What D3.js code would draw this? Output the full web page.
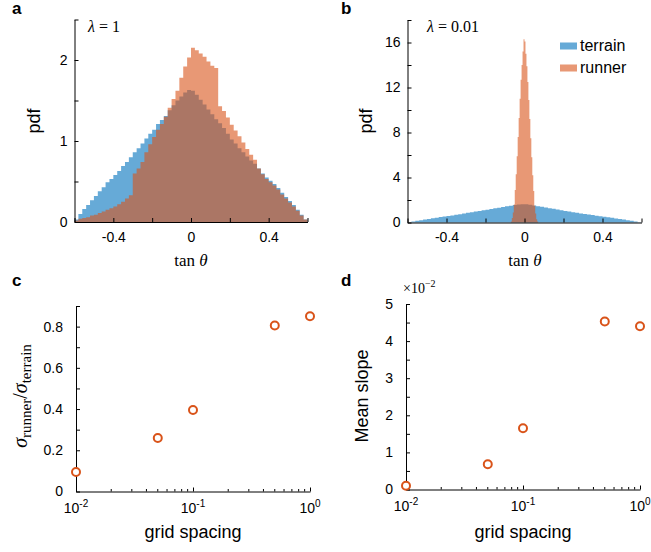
<!DOCTYPE html>
<html lang="en">
<head>
<meta charset="UTF-8" />
<title>Terrain vs runner slopes</title>
<script src="https://d3js.org/d3.v7.min.js"></script>
<style>
    body { margin: 0; background: #fff; }
    svg { font-family: "Liberation Sans", Arial, sans-serif; }
    .tick text, .lbl { font-family: "Liberation Sans", Arial, sans-serif; font-size: 14px; fill: #000; }
    .tick line, .domain { stroke: #000; stroke-width: 1; }
    .axlabel { font-size: 18px; }
    .math { font-family: "Liberation Serif", "Times New Roman", serif; }
    .panel { font-size: 17px; font-weight: bold; }
</style>
</head>
<body>
<div id="chart"></div>
<script>
// histogram bins, panel a and terrain in b (width 0.02 from -0.6)
var binStart = -0.6, binWidth = 0.02;
var terrainPdf = [0.03, 0.10, 0.16, 0.21, 0.27, 0.32, 0.38, 0.43, 0.49, 0.53,
    0.58, 0.63, 0.69, 0.74, 0.80, 0.86, 0.91, 0.97, 1.03, 1.09,
    1.14, 1.21, 1.26, 1.31, 1.38, 1.44, 1.50, 1.55, 1.60, 1.63,
    1.62, 1.57, 1.51, 1.45, 1.39, 1.33, 1.27, 1.22, 1.16, 1.09,
    1.02, 0.97, 0.91, 0.86, 0.81, 0.76, 0.72, 0.66, 0.60, 0.55,
    0.51, 0.47, 0.42, 0.36, 0.31, 0.26, 0.21, 0.15, 0.09, 0.03];
var runnerPdfA = [0.02, 0.04, 0.05, 0.06, 0.08, 0.09, 0.11, 0.13, 0.15, 0.17,
    0.19, 0.22, 0.25, 0.29, 0.33, 0.60, 0.66, 0.74, 0.86, 0.96,
    1.05, 1.14, 1.21, 1.30, 1.41, 1.52, 1.62, 1.78, 1.92, 2.03,
    2.15, 2.12, 2.08, 2.04, 1.98, 1.93, 1.90, 1.43, 1.37, 1.29,
    1.20, 1.13, 1.06, 0.98, 0.90, 0.83, 0.77, 0.66, 0.59, 0.53,
    0.49, 0.45, 0.40, 0.34, 0.29, 0.24, 0.19, 0.14, 0.08, 0.03];
// runner in panel b (width 0.005 from -0.07)
var binStartB = -0.07, binWidthB = 0.005;
var runnerPdfB = [0.1, 0.4, 0.9, 1.6, 2.9, 4.3, 5.9, 7.6, 9.3, 11.0,
    12.7, 14.0, 15.2, 16.3, 16.1, 15.0, 13.9, 12.5, 10.9, 9.2,
    7.5, 5.8, 4.2, 2.8, 1.5, 0.8, 0.3, 0.1];

// panels c and d
var gridSpacing = [0.01, 0.05, 0.1, 0.5, 1];
var sigmaRatio = [0.095, 0.26, 0.395, 0.805, 0.85];
var meanSlope = [0.1, 0.68, 1.65, 4.53, 4.40];   // x 10^-2

// ticks
var xTicksHist = [-0.6, -0.4, -0.2, 0, 0.2, 0.4, 0.6];
var xLabelsHist = [-0.4, 0, 0.4];
var yTicksA = [0, 0.5, 1, 1.5, 2, 2.5];
var yLabelsA = [0, 1, 2];
var yTicksB = [0, 2, 4, 6, 8, 10, 12, 14, 16, 18];
var yLabelsB = [0, 4, 8, 12, 16];
var yTicksC = [0, 0.1, 0.2, 0.3, 0.4, 0.5, 0.6, 0.7, 0.8, 0.9];
var yLabelsC = [0, 0.2, 0.4, 0.6, 0.8];
var yTicksD = [0, 0.5, 1, 1.5, 2, 2.5, 3, 3.5, 4, 4.5, 5];
var yLabelsD = [0, 1, 2, 3, 4, 5];
var logMajor = [0.01, 0.1, 1];
var logMajorExp = ["-2", "-1", "0"];

var blue = "#0072BD", orange = "#D95319";

var svg = d3.select("#chart").append("svg")
    .attr("width", 651).attr("height", 552);

function fmt(list) {
    return function(v) {
        var hit = list.some(function(l) { return Math.abs(l - v) < 1e-9; });
        if (!hit) return "";
        return Math.abs(v) < 1e-9 ? "0" : String(+v.toFixed(2));
    };
}

function drawYAxis(y, x0, ticks, labels, pad) {
    svg.append("g")
        .attr("transform", "translate(" + x0 + ",0)")
        .call(d3.axisLeft(y).tickValues(ticks).tickFormat(fmt(labels))
            .tickSizeInner(-4).tickSizeOuter(0).tickPadding(pad));
}

function drawLinX(x, y0, ticks, labels) {
    svg.append("g")
        .attr("transform", "translate(0," + y0 + ")")
        .call(d3.axisBottom(x).tickValues(ticks).tickFormat(fmt(labels))
            .tickSizeInner(-4).tickSizeOuter(0).tickPadding(10));
}

function drawLogX(x, y0) {
    var minor = [];
    logMajor.forEach(function(m, i) {
        if (i < logMajor.length - 1)
            for (var k = 2; k <= 9; k++) minor.push(m * k);
    });
    var g = svg.append("g").attr("transform", "translate(0," + y0 + ")");
    g.call(d3.axisBottom(x).tickValues(logMajor).tickFormat("")
        .tickSizeInner(-4).tickSizeOuter(0));
    g.selectAll(".minor").data(minor).enter().append("line")
        .attr("x1", function(d) { return x(d); })
        .attr("x2", function(d) { return x(d); })
        .attr("y1", 0).attr("y2", -2.5)
        .attr("stroke", "#000");
    var t = g.selectAll(".lbl").data(logMajor).enter().append("text")
        .attr("class", "lbl")
        .attr("x", function(d) { return x(d); })
        .attr("y", 21)
        .attr("text-anchor", "middle");
    t.append("tspan").text("10");
    t.append("tspan").attr("font-size", 10).attr("dy", -6)
        .text(function(d, i) { return logMajorExp[i]; });
}

function histArea(x, y, start, width, vals, color) {
    var pts = vals.map(function(v, i) { return [start + i * width, v]; });
    pts.push([start + vals.length * width, vals[vals.length - 1]]);
    var area = d3.area()
        .curve(d3.curveStepAfter)
        .x(function(d) { return x(d[0]); })
        .y0(y(0))
        .y1(function(d) { return y(d[1]); });
    svg.append("path")
        .datum(pts)
        .attr("d", area)
        .attr("fill", color)
        .attr("fill-opacity", 0.6);
}

function yLabel(cx, cy, txt, cls) {
    svg.append("text")
        .attr("class", cls)
        .attr("transform", "translate(" + cx + "," + cy + ") rotate(-90)")
        .attr("text-anchor", "middle")
        .text(txt);
}

function tanLabel(cx) {
    var t = svg.append("text").attr("class", "math")
        .attr("x", cx).attr("y", 266)
        .attr("text-anchor", "middle").attr("font-size", 17);
    t.append("tspan").text("tan ");
    t.append("tspan").attr("font-style", "italic").text("\u03b8");
}

// ---- panel a ----
var xA = d3.scaleLinear().domain([-0.6, 0.6]).range([74.5, 307.5]);
var yA = d3.scaleLinear().domain([0, 2.5]).range([222, 19.5]);
histArea(xA, yA, binStart, binWidth, terrainPdf, blue);
histArea(xA, yA, binStart, binWidth, runnerPdfA, orange);
drawYAxis(yA, 74.5, yTicksA, yLabelsA, 7);
drawLinX(xA, 222, xTicksHist, xLabelsHist);
yLabel(40, 121, "pdf", "axlabel");
tanLabel(191);
svg.append("text").attr("class", "panel").attr("x", 12).attr("y", 14).text("a");
var la = svg.append("text").attr("class", "math").attr("x", 88).attr("y", 32).attr("font-size", 16);
la.append("tspan").attr("font-style", "italic").text("\u03bb");
la.append("tspan").text(" = 1");

// ---- panel b ----
var xB = d3.scaleLinear().domain([-0.6, 0.6]).range([407.5, 641.5]);
var yB = d3.scaleLinear().domain([0, 18]).range([222.5, 20]);
histArea(xB, yB, binStart, binWidth, terrainPdf, blue);
histArea(xB, yB, binStartB, binWidthB, runnerPdfB, orange);
drawYAxis(yB, 407.5, yTicksB, yLabelsB, 7);
drawLinX(xB, 222.5, xTicksHist, xLabelsHist);
yLabel(372, 121, "pdf", "axlabel");
tanLabel(525);
svg.append("text").attr("class", "panel").attr("x", 341).attr("y", 14).text("b");
var lb = svg.append("text").attr("class", "math").attr("x", 427).attr("y", 32).attr("font-size", 16);
lb.append("tspan").attr("font-style", "italic").text("\u03bb");
lb.append("tspan").text(" = 0.01");

// legend
var legend = [["terrain", blue], ["runner", orange]];
legend.forEach(function(d, i) {
    svg.append("rect")
        .attr("x", 560).attr("y", 42.5 + i * 22)
        .attr("width", 17).attr("height", 7)
        .attr("fill", d[1]).attr("fill-opacity", 0.6);
    svg.append("text")
        .attr("x", 580).attr("y", 51 + i * 22)
        .attr("font-size", 16)
        .text(d[0]);
});

// ---- panel c ----
var xC = d3.scaleLog().domain([0.01, 1]).range([76, 310]);
var yC = d3.scaleLinear().domain([0, 0.9]).range([491.5, 306]);
drawYAxis(yC, 76, yTicksC, yLabelsC, 13);
drawLogX(xC, 491.5);
svg.selectAll(".ptc").data(gridSpacing).enter().append("circle")
    .attr("cx", function(d) { return xC(d); })
    .attr("cy", function(d, i) { return yC(sigmaRatio[i]); })
    .attr("r", 4)
    .attr("fill", "#fff").attr("stroke", orange).attr("stroke-width", 2);
svg.append("text").attr("class", "axlabel").attr("x", 193).attr("y", 538)
    .attr("text-anchor", "middle").text("grid spacing");
svg.append("text").attr("class", "panel").attr("x", 12).attr("y", 286).text("c");
var sl = svg.append("text").attr("class", "math")
    .attr("transform", "translate(27,396) rotate(-90)")
    .attr("text-anchor", "middle").attr("font-size", 20);
sl.append("tspan").attr("font-style", "italic").text("\u03c3");
sl.append("tspan").attr("font-size", 15).attr("dy", 4).text("runner");
sl.append("tspan").attr("dy", -4).text("/");
sl.append("tspan").attr("font-style", "italic").text("\u03c3");
sl.append("tspan").attr("font-size", 15).attr("dy", 4).text("terrain");

// ---- panel d ----
var xD = d3.scaleLog().domain([0.01, 1]).range([406, 640]);
var yD = d3.scaleLinear().domain([0, 5]).range([489.5, 304]);
drawYAxis(yD, 406, yTicksD, yLabelsD, 13);
drawLogX(xD, 489.5);
svg.selectAll(".ptd").data(gridSpacing).enter().append("circle")
    .attr("cx", function(d) { return xD(d); })
    .attr("cy", function(d, i) { return yD(meanSlope[i]); })
    .attr("r", 4)
    .attr("fill", "#fff").attr("stroke", orange).attr("stroke-width", 2);
svg.append("text").attr("class", "axlabel").attr("x", 523).attr("y", 538)
    .attr("text-anchor", "middle").text("grid spacing");
yLabel(368, 396, "Mean slope", "axlabel");
svg.append("text").attr("class", "panel").attr("x", 341).attr("y", 286).text("d");
var ex = svg.append("text").attr("class", "math").attr("x", 403).attr("y", 293).attr("font-size", 14);
ex.append("tspan").text("\u00d710");
ex.append("tspan").attr("font-size", 10).attr("dy", -6).text("\u22122");
</script>
</body>
</html>
